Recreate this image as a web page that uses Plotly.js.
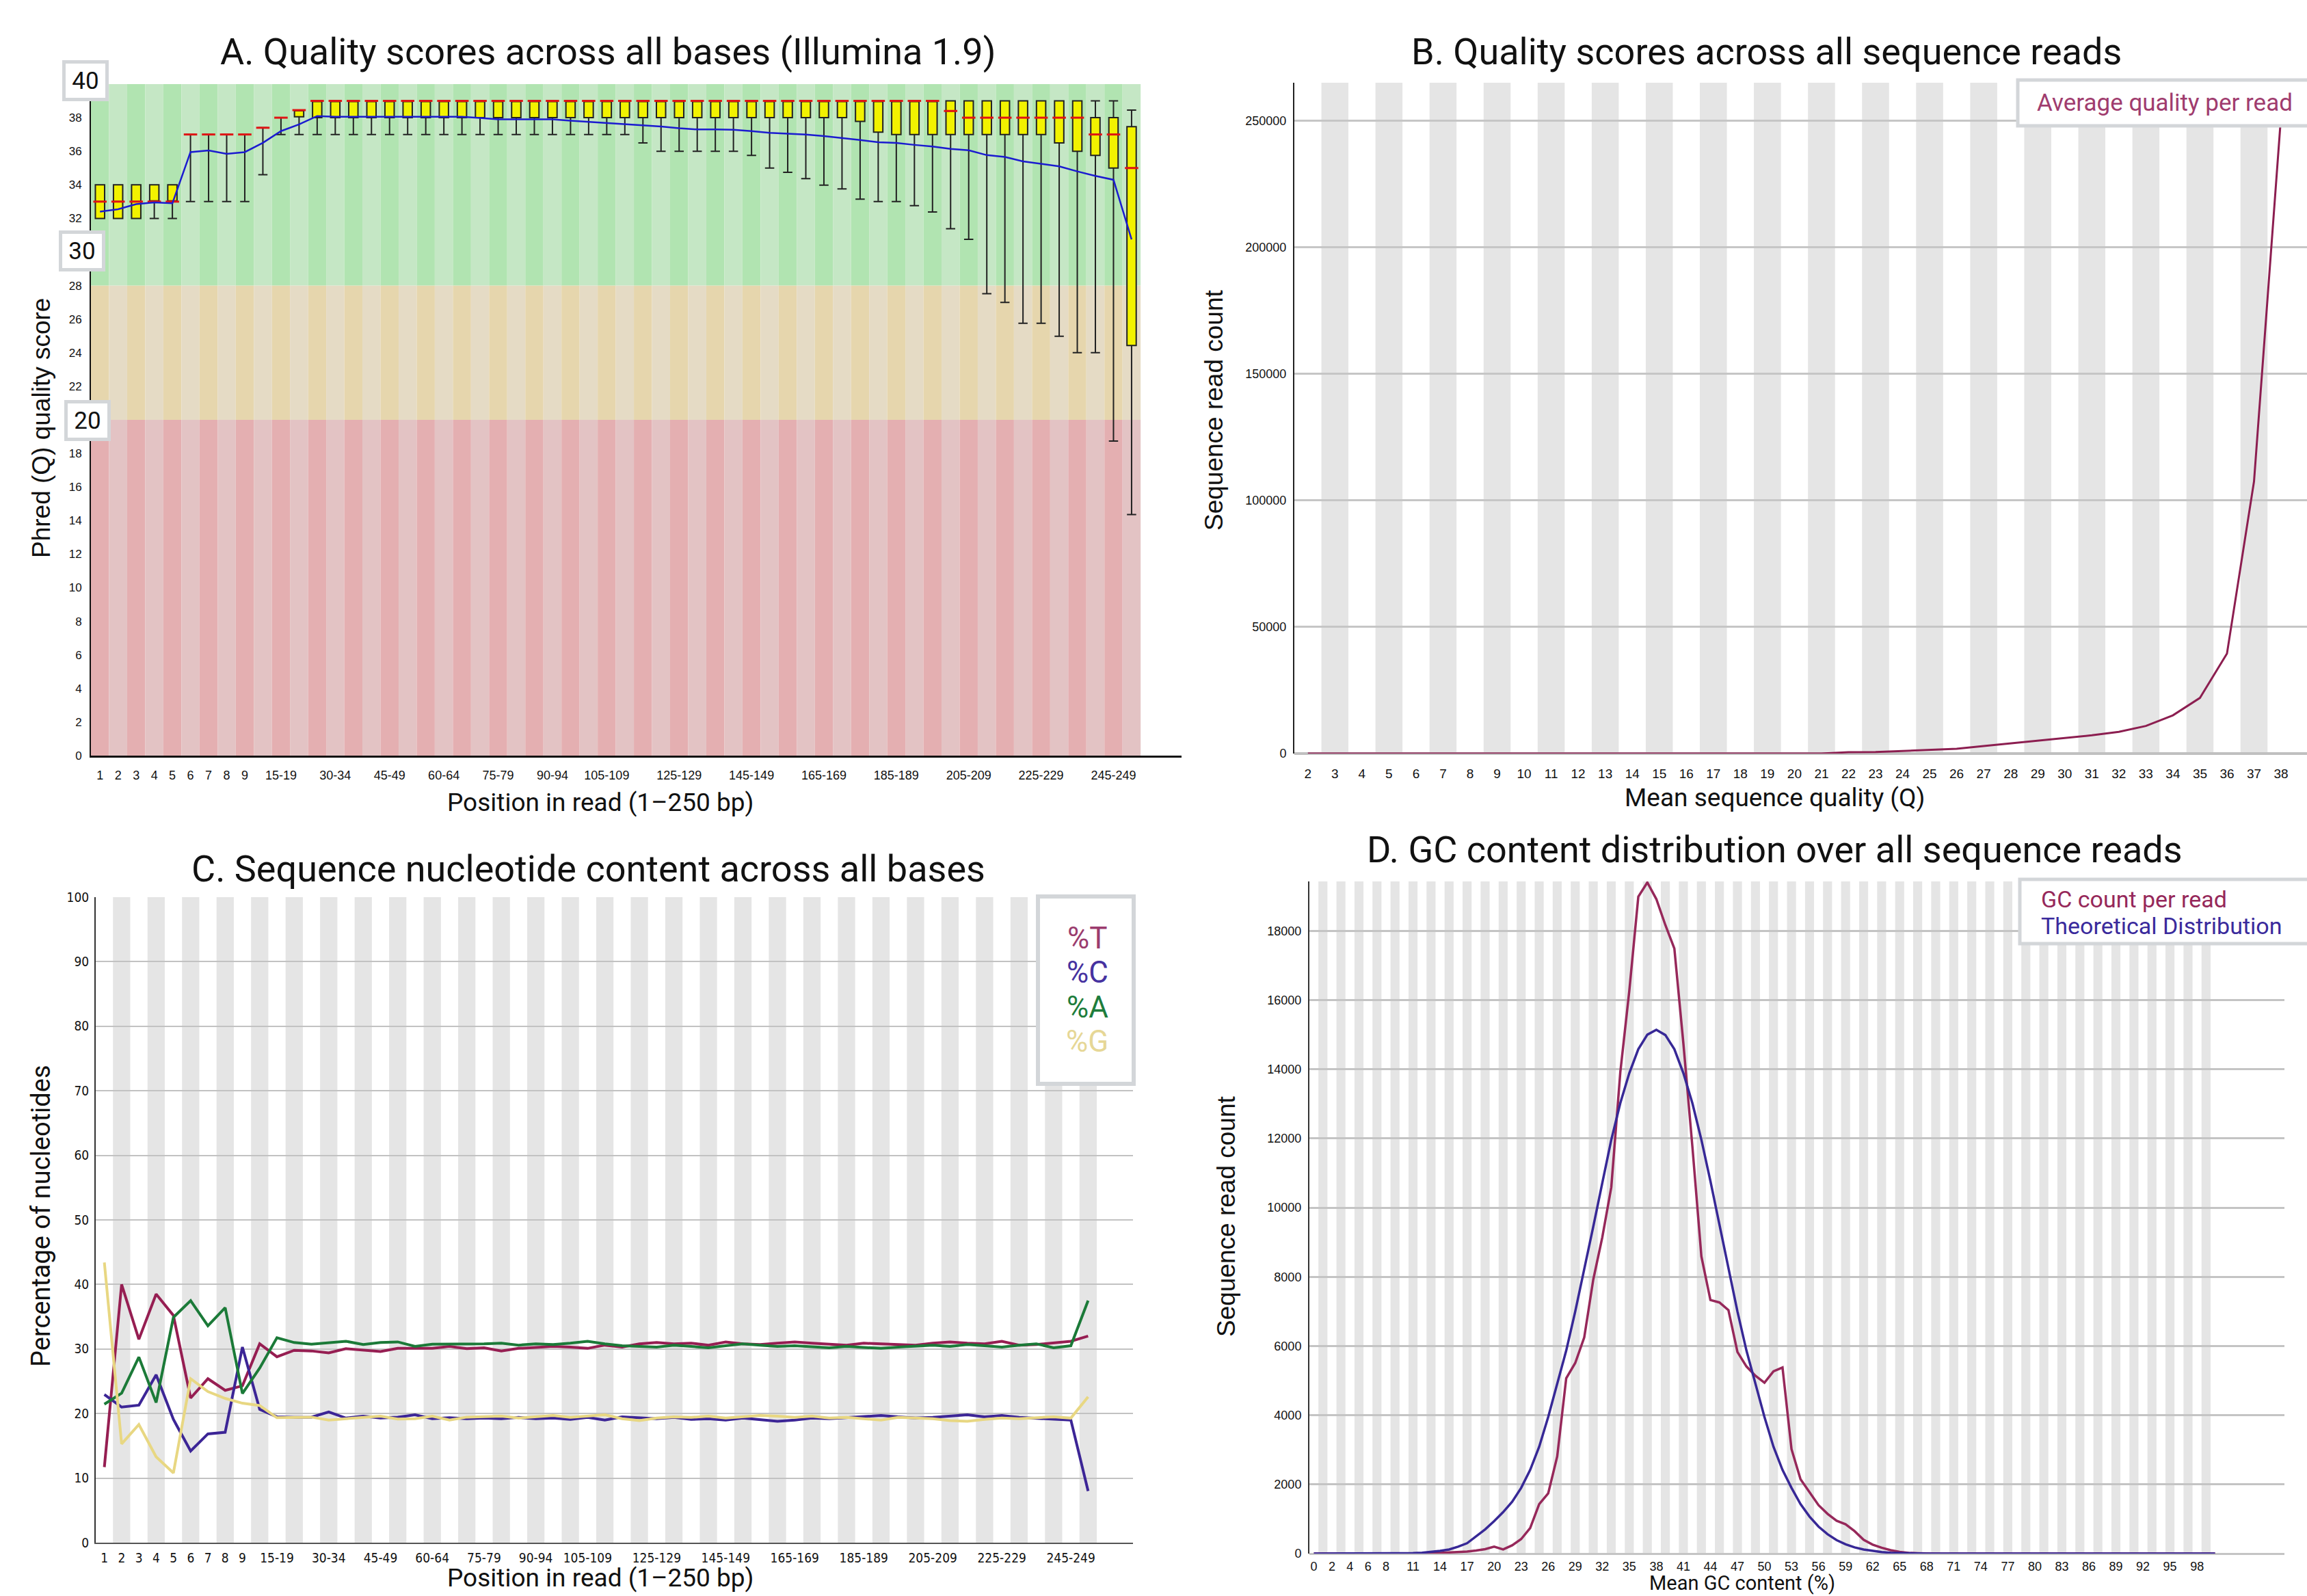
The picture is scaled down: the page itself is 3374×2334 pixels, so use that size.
<!DOCTYPE html>
<html>
<head>
<meta charset="utf-8">
<script src="https://cdn.plot.ly/plotly-3.0.1.min.js"></script>
<style>html,body{margin:0;padding:0;background:#fff;}#chart{width:3374px;height:2334px;}</style>
</head>
<body>
<div id="chart"></div>
<script>
// ---------- Panel A: per-base quality ----------
const posCats = ['1','2','3','4','5','6','7','8','9','10-14','15-19','20-24','25-29','30-34','35-39','40-44','45-49','50-54','55-59','60-64','65-69','70-74','75-79','80-84','85-89','90-94','95-99','100-104','105-109','110-114','115-119','120-124','125-129','130-134','135-139','140-144','145-149','150-154','155-159','160-164','165-169','170-174','175-179','180-184','185-189','190-194','195-199','200-204','205-209','210-214','215-219','220-224','225-229','230-234','235-239','240-244','245-249','250-251'];
const posTicks = ['1','2','3','4','5','6','7','8','9','15-19','30-34','45-49','60-64','75-79','90-94','105-109','125-129','145-149','165-169','185-189','205-209','225-229','245-249'];
const boxLower = [32,32,32,32,32, 33,33,33,33, 34.6,
  37,37,37,37,37,37,37,37,37,37, 37,37,37,37,37,37,37,37,37,37,
  36.5, 36,36,36,36,36, 35.75, 35.0, 34.75, 34.37, 33.98, 33.76, 33.15, 33.0, 33.0, 32.76, 32.38, 31.38, 30.75,
  27.52, 27.0, 25.75, 25.75, 24.98, 24.0, 24.0, 18.74, 14.36];
const boxQ1 = [32,32,32,33,33, 37,37,37,37, 37.4, 38, 38.05,
  38,38,38,38,38,38,38,38,38,38, 38,38,38,38,38,38,38,38,38,38, 38,38,38,38,38,38,38,38,38,38,
  37.78, 37.14, 37,37,37,37,37,37,37,37,37, 36.5, 36.0, 35.75, 35.0, 24.43];
const boxMedian = [33,33,33,33,33, 37,37,37,37, 37.4, 38, 38.45,
  39,39,39,39,39,39,39,39,39,39, 39,39,39,39,39,39,39,39,39,39, 39,39,39,39,39,39,39,39,39,39, 39,39,39,39,39,
  38.4, 38,38,38,38,38,38,38, 37, 37, 35];
const boxQ3 = [34,34,34,34,34, 37,37,37,37, 37.4, 38, 38.45,
  39,39,39,39,39,39,39,39,39,39, 39,39,39,39,39,39,39,39,39,39, 39,39,39,39,39,39,39,39,39,39,
  39,39,39,39,39,39,39,39,39,39, 39,39,39, 38, 38, 37.46];
const boxUpper = [34,34,34,34,34, 37,37,37,37, 37.4, 38, 38.45,
  39,39,39,39,39,39,39,39,39,39, 39,39,39,39,39,39,39,39,39,39, 39,39,39,39,39,39,39,39,39,39,
  39,39,39,39,39,39,39,39,39,39, 39,39,39,39,39, 38.45];
const boxMean = [32.4, 32.55, 32.85, 32.95, 32.9, 35.95, 36.05, 35.85, 35.95, 36.5, 37.2, 37.6, 38.1,
  38.05, 38.05, 38.05, 38.05, 38.05, 38.05, 38.05, 38.05, 37.98, 37.9, 37.9, 37.9, 37.9, 37.82,
  37.75, 37.7, 37.6, 37.55, 37.47, 37.37, 37.3, 37.3, 37.28, 37.2, 37.1, 37.05, 37.0, 36.9, 36.8,
  36.67, 36.54, 36.5, 36.38, 36.28, 36.14, 36.06, 35.77, 35.66, 35.4, 35.25, 35.1, 34.8, 34.53, 34.3, 30.75];
const qTicks = [0,2,4,6,8,10,12,14,16,18,22,24,26,28,32,34,36,38];
const zoneBounds = [0, 20, 28, 40];
const zoneBoxLabels = ['40', '30', '20'];

// ---------- Panel B: per-sequence quality ----------
const qualScores = [2,3,4,5,6,7,8,9,10,11,12,13,14,15,16,17,18,19,20,21,22,23,24,25,26,27,28,29,30,31,32,33,34,35,36,37,38];
const qualCounts = [0,0,0,0,0,0,0,0,0,0,0,0,0,0,0,0,0,0,0,0,
  540, 630, 1000, 1350, 1900, 3000, 4100, 5200, 6300, 7200, 8600, 10900, 15100, 22000, 39500, 107500, 252000];
const readTicks = [0,50000,100000,150000,200000,250000];

// ---------- Panel C: per-base sequence content ----------
const pctT = [11.7, 40.0, 31.5, 38.5, 35.2, 22.4, 25.4, 23.6, 24.3, 30.8, 28.8, 29.8, 29.7, 29.4, 30.05, 29.8, 29.6, 30.1, 30.1, 30.1, 30.4, 30.05,
  30.2, 29.7, 30.1, 30.2, 30.4, 30.3, 30.1, 30.6, 30.3, 30.8, 31.0, 30.8, 30.9, 30.6, 31.1, 30.8, 30.7, 30.9, 31.1, 30.9,
  30.7, 30.6, 30.9, 30.8, 30.7, 30.6, 30.9, 31.1, 30.9, 30.8, 31.2, 30.6, 30.7, 30.9, 31.2, 32.0];
const pctC = [22.95, 21.0, 21.3, 26.0, 19.1, 14.2, 16.85, 17.1, 30.3, 20.65, 19.5, 19.4, 19.45, 20.25, 19.3, 19.6, 19.3, 19.45, 19.8, 19.2, 19.35, 19.2,
  19.3, 19.2, 19.4, 19.2, 19.3, 19.1, 19.4, 19.0, 19.5, 19.3, 19.2, 19.4, 19.1, 19.2, 19.0, 19.3, 19.1, 18.8, 19.0, 19.3,
  19.2, 19.4, 19.6, 19.7, 19.5, 19.3, 19.4, 19.6, 19.8, 19.5, 19.7, 19.4, 19.3, 19.1, 19.0, 8.0];
const pctA = [21.45, 23.15, 28.75, 21.7, 34.9, 37.5, 33.6, 36.4, 23.1, 27.05, 31.75, 31.0, 30.75, 30.95, 31.2, 30.7, 31.0, 31.1, 30.4, 30.75, 30.75, 30.8,
  30.8, 30.9, 30.6, 30.8, 30.7, 30.9, 31.2, 30.8, 30.5, 30.4, 30.3, 30.6, 30.4, 30.2, 30.5, 30.8, 30.6, 30.4, 30.5, 30.3,
  30.2, 30.4, 30.3, 30.1, 30.3, 30.5, 30.6, 30.4, 30.7, 30.5, 30.3, 30.6, 30.8, 30.2, 30.5, 37.5];
const pctG = [43.4, 15.3, 18.3, 13.3, 10.8, 25.4, 23.4, 22.35, 21.6, 21.25, 19.35, 19.35, 19.45, 19.0, 19.2, 19.45, 19.6, 19.15, 19.2, 19.6, 19.0, 19.45,
  19.5, 19.6, 19.3, 19.5, 19.7, 19.4, 19.6, 19.8, 19.2, 18.9, 19.3, 19.5, 19.4, 19.6, 19.3, 19.5, 19.7, 19.6, 19.4, 19.6,
  19.3, 19.4, 19.2, 19.0, 19.4, 19.3, 19.2, 18.9, 18.8, 19.1, 19.3, 19.2, 19.4, 19.5, 19.3, 22.6];
const pctTicks = [0,10,20,30,40,50,60,70,80,90,100];
const baseNames = ['%T','%C','%A','%G'];

// ---------- Panel D: GC content ----------
const gcPercent = [0,1,2,3,4,5,6,7,8,9,10,11,12,13,14,15,16,17,18,19,20,21,22,23,24,25,26,27,28,29,30,31,32,33,34,35,36,37,38,39,40,41,42,43,44,45,46,47,48,49,50,51,52,53,54,55,56,57,58,59,60,61,62,63,64,65,66,67,68,69,70,71,72,73,74,75,76,77,78,79,80,81,82,83,84,85,86,87,88,89,90,91,92,93,94,95,96,97,98,99,100];
const gcCount = [0,0,0,0,0,0,0,0,0,0,0,0,0,
  10,20,30,45,60,90,130,200,120,240,
  420,740,1430,1740,2810,5070,5510,6250,7920,9140,
  10590,13910,16270,18990,19400,18920,18170,17490,14750,11770,
  8590,7330,7260,7040,5830,5410,5140,4940,5270,5380,
  3020,2150,1760,1400,1150,950,850,650,400,260,
  170,100,50,20,10,
  0,0,0,0,0,0,0,0,0,0,0,0,0,0,0,0,0,0,0,0,0,0,0,0,0,0,0,0,0,0,0,0,0];
const gcTheory = [0,0,0,0,0,0,0,0,0,
  4,8,15,25,45,80,120,200,300,500,
  700,940,1200,1500,1900,2420,3090,3950,4880,5870,
  7000,8190,9450,10710,11960,13020,13890,14580,15000,15140,
  14990,14580,13890,13020,11960,10770,9510,8250,7000,5870,
  4880,3950,3090,2420,1900,1430,1070,780,560,390,
  270,180,120,75,45,25,15,8,
  0,0,0,0,0,0,0,0,0,0,0,0,0,0,0,0,0,0,0,0,0,0,0,0,0,0,0,0,0,0,0,0,0,0];
const gcTicks = [0,2,4,6,8,11,14,17,20,23,26,29,32,35,38,41,44,47,50,53,56,59,62,65,68,71,74,77,80,83,86,89,92,95,98];
const gcCountTicks = [0,2000,4000,6000,8000,10000,12000,14000,16000,18000];

// ---------- layout helpers ----------
const W = 3374, H = 2334;
const px = v => v / W;
const py = v => 1 - v / H;
const TICKF = 'Liberation Sans, Arial, sans-serif';
const TITLEF = 'Roboto, Liberation Sans, sans-serif';

const cT = '#961e52', cC = '#3c2596', cA = '#1b7a38', cG = '#e8d782';
const stripeGray = '#e5e5e5';
const zoneDark = ['#e4afb1', '#e6d6ad', '#b1e4b1'];
const zoneLight = ['#e3c3c4', '#e5dbc5', '#c5e7c5'];

const traces = [
  {type:'box', x: posCats, q1: boxQ1, median: boxMedian, q3: boxQ3, lowerfence: boxLower, upperfence: boxUpper,
   fillcolor:'#f2f200', line:{color:'#222', width:2}, whiskerwidth:1, boxpoints:false,
   xaxis:'x', yaxis:'y', hoverinfo:'skip', name:'Quality'},
  {type:'scatter', mode:'markers', x: posCats, y: boxMedian, xaxis:'x', yaxis:'y',
   marker:{symbol:'line-ew', size:14, color:'#e01414', line:{color:'#e01414', width:3}}, hoverinfo:'skip', name:'Median'},
  {type:'scatter', mode:'lines', x: posCats, y: boxMean, xaxis:'x', yaxis:'y',
   line:{color:'#1b1bd0', width:2.5}, hoverinfo:'skip', name:'Mean'},
  {type:'scatter', mode:'lines', x: qualScores, y: qualCounts, xaxis:'x2', yaxis:'y2',
   line:{color:'#8c1e50', width:3}, name:'Average quality per read'},
  {type:'scatter', mode:'lines', x: posCats, y: pctT, xaxis:'x3', yaxis:'y3', line:{color:cT, width:4}, name:baseNames[0]},
  {type:'scatter', mode:'lines', x: posCats, y: pctC, xaxis:'x3', yaxis:'y3', line:{color:cC, width:4}, name:baseNames[1]},
  {type:'scatter', mode:'lines', x: posCats, y: pctA, xaxis:'x3', yaxis:'y3', line:{color:cA, width:4}, name:baseNames[2]},
  {type:'scatter', mode:'lines', x: posCats, y: pctG, xaxis:'x3', yaxis:'y3', line:{color:cG, width:4}, name:baseNames[3]},
  {type:'scatter', mode:'lines', x: gcPercent, y: gcCount, xaxis:'x4', yaxis:'y4', line:{color:'#96285a', width:3.5}, name:'GC count per read'},
  {type:'scatter', mode:'lines', x: gcPercent, y: gcTheory, xaxis:'x4', yaxis:'y4', line:{color:'#372896', width:3.5}, name:'Theoretical Distribution'}
];

// background stripes (axis coordinates, derived from category lists)
const shapes = [];
posCats.forEach((c, i) => {
  for (let z = 0; z < 3; z++) {
    shapes.push({type:'rect', xref:'x', yref:'y', x0:i-0.5, x1:i+0.5, y0:zoneBounds[z], y1:zoneBounds[z+1],
      fillcolor: (i % 2 === 0) ? zoneDark[z] : zoneLight[z], line:{width:0}, layer:'below'});
  }
  if (i % 2 === 1) shapes.push({type:'rect', xref:'x3', yref:'y3 domain', x0:i-0.5, x1:i+0.5, y0:0, y1:1,
      fillcolor:stripeGray, line:{width:0}, layer:'below'});
});
qualScores.forEach((q, i) => {
  if (i % 2 === 1) shapes.push({type:'rect', xref:'x2', yref:'y2 domain', x0:q-0.5, x1:q+0.5, y0:0, y1:1,
      fillcolor:stripeGray, line:{width:0}, layer:'below'});
});
gcPercent.forEach((g, i) => {
  if (i % 2 === 1) shapes.push({type:'rect', xref:'x4', yref:'y4 domain', x0:g-0.5, x1:g+0.5, y0:0, y1:1,
      fillcolor:stripeGray, line:{width:0}, layer:'below'});
});
// legend frames
const frame = '#d3d6d9';
shapes.push({type:'rect', xref:'paper', yref:'paper', x0:px(2951), x1:px(3385), y0:py(184), y1:py(117), fillcolor:'#fff', line:{color:frame, width:5}, layer:'above'});
shapes.push({type:'rect', xref:'paper', yref:'paper', x0:px(2954), x1:px(3380), y0:py(1380), y1:py(1286), fillcolor:'#fff', line:{color:frame, width:5}, layer:'above'});
shapes.push({type:'rect', xref:'paper', yref:'paper', x0:px(1518), x1:px(1658), y0:py(1585), y1:py(1311), fillcolor:'#fff', line:{color:frame, width:6}, layer:'above'});

const ann = [];
function txt(text, x, y, size, opts) {
  ann.push(Object.assign({text, x:px(x), y:py(y), xref:'paper', yref:'paper', showarrow:false,
    xanchor:'center', yanchor:'middle', font:{family:TITLEF, size, color:'#111'}}, opts || {}));
}
txt('A. Quality scores across all bases (Illumina 1.9)', 889, 75, 54);
txt('B. Quality scores across all sequence reads', 2583, 75, 54);
txt('C. Sequence nucleotide content across all bases', 861, 1270, 54);
txt('D. GC content distribution over all sequence reads', 2595, 1242, 54);
txt('Position in read (1–250 bp)', 878, 1173, 37);
txt('Mean sequence quality (Q)', 2595, 1166, 37);
txt('Position in read (1–250 bp)', 878, 2307, 37);
txt('Mean GC content (%)', 2548, 2315, 29);
txt('Phred (Q) quality score', 60, 626, 37, {textangle:-90, font:{family:TICKF, size:37, color:'#111'}});
txt('Sequence read count', 1775, 600, 37, {textangle:-90, font:{family:TICKF, size:37, color:'#111'}});
txt('Percentage of nucleotides', 60, 1778, 38, {textangle:-90});
txt('Sequence read count', 1793, 1779, 37, {textangle:-90, font:{family:TICKF, size:37, color:'#111'}});
// boxed zone labels on panel A
[[125,118],[120,367],[128,615]].forEach((p, k) => {
  txt(zoneBoxLabels[k], p[0], p[1], 35, {bgcolor:'#fff', bordercolor:frame, borderwidth:5, borderpad:4, width:50, height:42});
});
// legend texts
txt('Average quality per read', 2977, 151, 35, {xanchor:'left', font:{family:TITLEF, size:35, color:'#a03c6e'}});
txt('GC count per read', 2983, 1315, 34, {xanchor:'left', font:{family:TITLEF, size:34, color:'#96285a'}});
txt('Theoretical Distribution', 2983, 1354, 34, {xanchor:'left', font:{family:TITLEF, size:34, color:'#3a2a9c'}});
const legCols = ['#9b3c6e', '#4632a0', '#1e7d3c', '#e6d796'];
[1372, 1422, 1473, 1523].forEach((yy, k) => txt(baseNames[k], 1590, yy, 44, {font:{family:TITLEF, size:44, color:legCols[k]}}));

const hideTick = 'rgba(0,0,0,0)';
const layout = {
  width: W, height: H, margin:{l:0, r:0, t:0, b:0}, paper_bgcolor:'#fff', plot_bgcolor:'#fff',
  showlegend:false, boxgap:0.27, font:{family:TITLEF, color:'#111'},
  xaxis: {domain:[px(133), px(1728)], anchor:'y', type:'category', categoryorder:'array', categoryarray:posCats,
    range:[-0.5, 59.76], tickvals:posTicks, ticktext:posTicks, tickangle:0, tickfont:{family:TICKF, size:18, color:'#111'},
    showline:true, linecolor:'#111', linewidth:3, showgrid:false, zeroline:false, ticks:'outside', ticklen:10, tickcolor:hideTick, fixedrange:true},
  yaxis: {domain:[py(1105), py(123)], anchor:'x', range:[0, 40], tickvals:qTicks, tickfont:{family:TICKF, size:17, color:'#111'},
    showline:true, linecolor:'#111', linewidth:2, showgrid:false, zeroline:false, ticks:'outside', ticklen:8, tickcolor:hideTick},
  xaxis2: {domain:[px(1893), 1], anchor:'y2', range:[1.5, 38.96], tickvals:qualScores, tickangle:0,
    tickfont:{family:TICKF, size:19, color:'#111'}, showline:false, showgrid:false, zeroline:false, ticks:'outside', ticklen:12, tickcolor:hideTick},
  yaxis2: {domain:[py(1102), py(121)], anchor:'x2', range:[0, 265000], tickvals:readTicks, tickformat:'d',
    tickfont:{family:TICKF, size:18, color:'#111'}, showline:true, linecolor:'#222', linewidth:2,
    showgrid:true, gridcolor:'#c6c6c6', gridwidth:3, zeroline:true, zerolinecolor:'#c0c0c0', zerolinewidth:4, ticks:'outside', ticklen:6, tickcolor:hideTick},
  xaxis3: {domain:[px(140), px(1657)], anchor:'y3', type:'category', categoryorder:'array', categoryarray:posCats,
    range:[-0.5, 59.6], tickvals:posTicks, ticktext:posTicks, tickangle:0, tickfont:{family:'DejaVu Sans Condensed, DejaVu Sans, sans-serif', size:19, color:'#111'},
    showline:true, linecolor:'#555', linewidth:2, showgrid:false, zeroline:false, ticks:'outside', ticklen:4, tickcolor:hideTick},
  yaxis3: {domain:[py(2256), py(1312)], anchor:'x3', range:[0, 100], tickvals:pctTicks,
    tickfont:{family:'DejaVu Sans Condensed, DejaVu Sans, sans-serif', size:19, color:'#111'}, showline:true, linecolor:'#333', linewidth:2,
    showgrid:true, gridcolor:'#c2c2c2', gridwidth:2, zeroline:false, ticks:'outside', ticklen:4, tickcolor:hideTick},
  xaxis4: {domain:[px(1915), px(3341)], anchor:'y4', range:[-0.5, 107.7], tickvals:gcTicks, tickangle:0,
    tickfont:{family:TICKF, size:18, color:'#111'}, showline:false, showgrid:false, zeroline:false, ticks:'outside', ticklen:2, tickcolor:hideTick},
  yaxis4: {domain:[py(2272), py(1289)], anchor:'x4', range:[0, 19430], tickvals:gcCountTicks, tickformat:'d',
    tickfont:{family:TICKF, size:18, color:'#111'}, showline:true, linecolor:'#333', linewidth:2,
    showgrid:true, gridcolor:'#c4c4c4', gridwidth:3, zeroline:true, zerolinecolor:'#c4c4c4', zerolinewidth:3, ticks:'outside', ticklen:6, tickcolor:hideTick},
  shapes: shapes,
  annotations: ann
};

Plotly.newPlot('chart', traces, layout, {displayModeBar:false, staticPlot:true});
</script>
</body>
</html>
